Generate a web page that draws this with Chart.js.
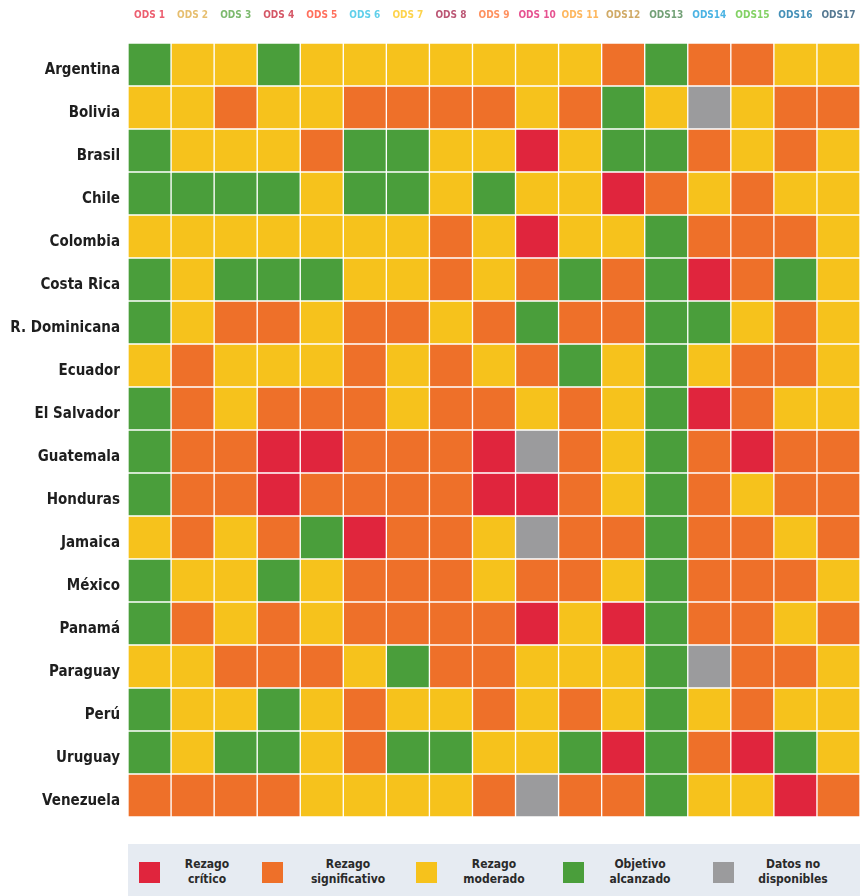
<!DOCTYPE html>
<html>
<head>
<meta charset="utf-8">
<script src="https://cdn.jsdelivr.net/npm/chart.js@4.4.1/dist/chart.umd.min.js"></script>
<style>
  html, body { margin: 0; padding: 0; background: #ffffff; }
  #wrap { position: relative; width: 860px; height: 896px; overflow: hidden; }
  #c { position: absolute; left: 0; top: 0; }
  #legend { position: absolute; left: 128px; top: 844px; width: 732px; height: 52px; background: #e6ebf2; }
  .sw { position: absolute; top: 18px; width: 21px; height: 21px; }
  .lt { position: absolute; top: 13px; text-align: center; font-family: 'DejaVu Sans Condensed', sans-serif; font-weight: bold; font-size: 12px; line-height: 15px; color: #2a2a2a; transform: translateX(-50%); white-space: nowrap; }
</style>
</head>
<body>
<div id="wrap">
  <canvas id="c" width="860" height="896"></canvas>
  <div id="legend"></div>
</div>
<script>
// ---- data ----
const countries = ["Argentina","Bolivia","Brasil","Chile","Colombia","Costa Rica","R. Dominicana","Ecuador","El Salvador","Guatemala","Honduras","Jamaica","México","Panamá","Paraguay","Perú","Uruguay","Venezuela"];
const odsLabels = ["ODS 1","ODS 2","ODS 3","ODS 4","ODS 5","ODS 6","ODS 7","ODS 8","ODS 9","ODS 10","ODS 11","ODS12","ODS13","ODS14","ODS15","ODS16","ODS17"];
// status per country, one letter per ODS: R = rezago crítico, O = rezago significativo, Y = rezago moderado, G = objetivo alcanzado, N = datos no disponibles
const argentina   = "GYYGYYYYYYYOGOOYY";
const bolivia     = "YYOYYOOOOYOGYNYOO";
const brasil      = "GYYYOGGYYRYGGOYOY";
const chile       = "GGGGYGGYGYYROYOYY";
const colombia    = "YYYYYYYOYRYYGOOOY";
const costaRica   = "GYGGGYYOYOGOGROGY";
const rDominicana = "GYOOYOOYOGOOGGYOY";
const ecuador     = "YOYYYOYOYOGYGYOOY";
const elSalvador  = "GOYOOOYOOYOYGROYY";
const guatemala   = "GOORROOORNOYGOROO";
const honduras    = "GOOROOOORROYGOYOO";
const jamaica     = "YOYOGROOYNOOGOOYO";
const mexico      = "GYYGYOOOYOOYGOOOY";
const panama      = "GOYOYOOOORYRGOOYO";
const paraguay    = "YYOOOYGOOYYYGNOOY";
const peru        = "GYYGYOYYOYOYGYOYY";
const uruguay     = "GYGGYOGGYYGRGORGY";
const venezuela   = "OOOOYYYYONOOGYYRO";
const statusRows = [argentina,bolivia,brasil,chile,colombia,costaRica,rDominicana,ecuador,elSalvador,guatemala,honduras,jamaica,mexico,panama,paraguay,peru,uruguay,venezuela];

const legendKeys   = ["R","O","Y","G","N"];
const legendLabels = [["Rezago","crítico"],["Rezago","significativo"],["Rezago","moderado"],["Objetivo","alcanzado"],["Datos no","disponibles"]];

// ---- styles ----
const statusColors = { R: "#e0253d", O: "#ee7029", Y: "#f6c21c", G: "#4a9e3b", N: "#9b9b9d" };
const odsColors = ["#e5243b","#dda63a","#4c9f38","#c5192d","#ff3a21","#26bde2","#fcc30b","#a21942","#fd6925","#dd1367","#fd9d24","#bf8b2e","#3f7e44","#0a97d9","#56c02b","#00689d","#19486a"];
const legendSwatchX = [11, 134, 288, 435, 585];
const legendTextX   = [79, 220, 366, 512, 665];

const datasets = odsLabels.map((ods, j) => ({
  label: ods,
  data: countries.map(() => 1),
  backgroundColor: statusRows.map(row => statusColors[row[j]]),
  borderColor: "#ffffff",
  borderWidth: 1,
  borderSkipped: false,
  barPercentage: 1,
  categoryPercentage: 1
}));

const font = "'DejaVu Sans Condensed', sans-serif";

new Chart(document.getElementById("c"), {
  type: "bar",
  data: { labels: countries, datasets },
  options: {
    indexAxis: "y",
    responsive: false,
    animation: false,
    devicePixelRatio: 1,
    layout: { padding: { top: 0, bottom: 79, left: 0, right: 0 } },
    plugins: { legend: { display: false }, tooltip: { enabled: false } },
    scales: {
      x: { type: "linear", stacked: true, min: 0, max: odsLabels.length, display: false },
      xTop: {
        type: "category", axis: "x", position: "top", labels: odsLabels, offset: true,
        grid: { display: false, drawTicks: false }, border: { display: false },
        ticks: { autoSkip: false, maxRotation: 0, padding: 22,
          font: { family: font, size: 10, weight: "bold" },
          color: ctx => odsColors[ctx.index] + "bb" },
        afterFit: s => { s.height = 43; s.paddingLeft = 0; s.paddingRight = 0; }
      },
      y: {
        stacked: true, offset: true,
        grid: { display: false, drawTicks: false }, border: { display: false },
        ticks: { padding: 8, labelOffset: 6, autoSkip: false,
          font: { family: font, size: 15, weight: "bold" }, color: "#1e1e1e" },
        afterFit: s => { s.width = 128; s.paddingTop = 0; s.paddingBottom = 0; }
      }
    }
  }
});

// ---- legend (HTML text) ----
const lg = document.getElementById("legend");
legendKeys.forEach((k, i) => {
  const sw = document.createElement("div");
  sw.className = "sw"; sw.style.left = legendSwatchX[i] + "px"; sw.style.background = statusColors[k];
  lg.appendChild(sw);
  const t = document.createElement("div");
  t.className = "lt"; t.style.left = legendTextX[i] + "px";
  t.innerHTML = legendLabels[i].join("<br>");
  lg.appendChild(t);
});
</script>
</body>
</html>
